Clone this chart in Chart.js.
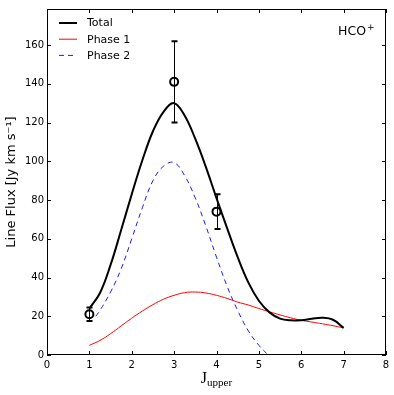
<!DOCTYPE html>
<html>
<head>
<meta charset="utf-8">
<script src="https://cdn.jsdelivr.net/npm/chart.js@4/dist/chart.umd.min.js"></script>
<style>
  html, body { margin: 0; padding: 0; background: #ffffff; }
  #wrap { width: 394px; height: 395px; }
</style>
</head>
<body>
<div id="wrap"><canvas id="c" width="394" height="395"></canvas></div>
<script>
// ---- Data ----
const curveJ = [1, 1.25, 1.5, 1.75, 2, 2.25, 2.5, 2.75, 3, 3.25, 3.5, 3.75, 4, 4.25, 4.5, 4.75, 5, 5.25, 5.5, 5.75, 6, 6.25, 6.5, 6.75, 7];
const totalFlux = [24, 32, 46.5, 64.5, 83, 100.5, 115.5, 125.5, 130, 123.5, 111.5, 97, 81, 65.5, 50.5, 37.5, 28, 22, 18.8, 17.9, 18, 18.7, 19.2, 18.2, 14];
const phase1Flux = [5, 7.5, 11, 15, 19, 22.7, 26, 28.8, 30.8, 32.2, 32.5, 32, 30.8, 29.2, 27.3, 25.8, 24, 22.3, 20.7, 19.2, 17.9, 17, 16.1, 15.1, 14];
const phase2J = [1.15, 1.25, 1.5, 1.75, 2, 2.25, 2.5, 2.75, 3, 3.25, 3.5, 3.75, 4, 4.25, 4.5, 4.75, 5, 5.22];
const phase2Flux = [20, 23, 32.5, 44.5, 60, 76, 90, 97.5, 99.3, 92.5, 81, 66.5, 50.5, 35.5, 23, 12.5, 5, 0];
const obsJ = [1, 3, 4];
const obsFlux = [21, 141, 74];
const obsErr = [3.5, 21, 9];
const xTicks = [0, 1, 2, 3, 4, 5, 6, 7, 8];
const yTicks = [0, 20, 40, 60, 80, 100, 120, 140, 160];
const seriesLabels = ['Total', 'Phase 1', 'Phase 2'];
const moleculeLabel = 'HCO';
const moleculeCharge = '+';
const xTitleMain = 'J';
const xTitleSub = 'upper';
const yTitle = 'Line Flux [Jy km s\u207B\u00B9]';

const SANS = '"DejaVu Sans", "Liberation Sans", sans-serif';
const SERIF = '"Liberation Serif", "DejaVu Serif", serif';

const pts = (xs, ys) => xs.map((x, i) => ({ x: x, y: ys[i] }));

const decor = {
  id: 'decor',
  beforeDatasetsDraw(chart) {
    const ctx = chart.ctx, xs = chart.scales.x, ys = chart.scales.y;
    ctx.save();
    ctx.strokeStyle = '#000';
    obsJ.forEach((j, i) => {
      const px = Math.round(xs.getPixelForValue(j)) + 0.5;
      const top = ys.getPixelForValue(obsFlux[i] + obsErr[i]);
      const bot = ys.getPixelForValue(obsFlux[i] - obsErr[i]);
      ctx.lineWidth = 1;
      ctx.beginPath(); ctx.moveTo(px, top); ctx.lineTo(px, bot); ctx.stroke();
      ctx.lineWidth = 2;
      ctx.beginPath();
      ctx.moveTo(px - 3, top); ctx.lineTo(px + 3, top);
      ctx.moveTo(px - 3, bot); ctx.lineTo(px + 3, bot);
      ctx.stroke();
    });
    ctx.restore();
  },
  afterDraw(chart) {
    const ctx = chart.ctx, a = chart.chartArea, xs = chart.scales.x, ys = chart.scales.y;
    ctx.save();
    // frame
    ctx.strokeStyle = '#000';
    ctx.lineWidth = 1;
    ctx.strokeRect(Math.round(a.left) + 0.5, Math.round(a.top) + 0.5, Math.round(a.right - a.left) - 1, Math.round(a.bottom - a.top) - 1);
    // inward ticks
    const tl = 4;
    ctx.beginPath();
    xTicks.forEach(v => {
      const p = Math.round(xs.getPixelForValue(v)) + 0.5;
      ctx.moveTo(p, a.bottom); ctx.lineTo(p, a.bottom - tl);
      ctx.moveTo(p, a.top); ctx.lineTo(p, a.top + tl);
    });
    yTicks.forEach(v => {
      const p = Math.round(ys.getPixelForValue(v)) + 0.5;
      ctx.moveTo(a.left, p); ctx.lineTo(a.left + tl, p);
      ctx.moveTo(a.right, p); ctx.lineTo(a.right - tl, p);
    });
    ctx.stroke();

    // legend (inside, upper left)
    const ds = chart.data.datasets;
    ctx.font = '11px ' + SANS;
    ctx.textBaseline = 'middle';
    ctx.fillStyle = '#000';
    const lx0 = a.left + 12, lx1 = a.left + 30, tx = a.left + 40;
    [0, 1, 2].forEach((k, r) => {
      const y = a.top + 14 + r * 16.2;
      const d = ds[k];
      ctx.save();
      ctx.strokeStyle = d.borderColor;
      ctx.lineWidth = d.borderWidth;
      ctx.setLineDash(d.borderDash || []);
      ctx.beginPath(); ctx.moveTo(lx0, y); ctx.lineTo(lx1, y); ctx.stroke();
      ctx.restore();
      ctx.fillText(d.label, tx, y + 0.5);
    });

    // molecule annotation
    ctx.textBaseline = 'alphabetic';
    ctx.font = '12.5px ' + SANS;
    const hx = a.right - 48;
    ctx.fillText(moleculeLabel, hx, a.top + 26);
    const hw = ctx.measureText(moleculeLabel).width;
    ctx.font = '9px ' + SANS;
    ctx.fillText(moleculeCharge, hx + hw + 1, a.top + 21);

    // x-axis title with subscript
    ctx.font = '16px ' + SERIF;
    const w1 = ctx.measureText(xTitleMain).width;
    ctx.font = '11px ' + SERIF;
    const w2 = ctx.measureText(xTitleSub).width;
    const cx = (a.left + a.right) / 2;
    const sx = cx - (w1 + w2) / 2;
    ctx.font = '16px ' + SERIF;
    ctx.fillText(xTitleMain, sx, 383);
    ctx.font = '11px ' + SERIF;
    ctx.fillText(xTitleSub, sx + w1, 386);
    ctx.restore();
  }
};

const tickFont = { family: SANS, size: 10 };

new Chart(document.getElementById('c'), {
  type: 'scatter',
  data: {
    datasets: [
      { label: seriesLabels[0], data: pts(curveJ, totalFlux), showLine: true, borderColor: '#000000', backgroundColor: '#000000', borderWidth: 2, pointRadius: 0, tension: 0.4 },
      { label: seriesLabels[1], data: pts(curveJ, phase1Flux), showLine: true, borderColor: '#ff0000', backgroundColor: '#ff0000', borderWidth: 1, pointRadius: 0, tension: 0.4 },
      { label: seriesLabels[2], data: pts(phase2J, phase2Flux), showLine: true, borderColor: '#1a1aff', backgroundColor: '#1a1aff', borderWidth: 1, borderDash: [5, 4], pointRadius: 0, tension: 0.4 },
      { label: 'Observed', data: pts(obsJ, obsFlux), showLine: false, pointRadius: 4, pointBorderWidth: 2, pointBorderColor: '#000000', pointBackgroundColor: 'rgba(0,0,0,0)' }
    ]
  },
  options: {
    responsive: false,
    animation: false,
    devicePixelRatio: 1,
    layout: { padding: { left: 0, right: 8, top: 5, bottom: 0 } },
    plugins: { legend: { display: false }, tooltip: { enabled: false } },
    scales: {
      x: {
        type: 'linear', min: 0, max: 8,
        afterBuildTicks: s => { s.ticks = xTicks.map(v => ({ value: v })); },
        afterFit: s => { s.height = 40; },
        grid: { display: false, drawTicks: false },
        border: { display: false },
        ticks: { padding: 4, font: tickFont, color: '#000', maxRotation: 0, autoSkip: false }
      },
      y: {
        type: 'linear', min: 0, max: 178.6,
        afterBuildTicks: s => { s.ticks = yTicks.map(v => ({ value: v })); },
        afterFit: s => { s.width = 47; },
        grid: { display: false, drawTicks: false },
        border: { display: false },
        ticks: { padding: 3, font: tickFont, color: '#000', autoSkip: false },
        title: { display: true, text: yTitle, font: { family: SANS, size: 13 }, color: '#000', padding: { top: 4, bottom: 0 } }
      }
    }
  },
  plugins: [decor]
});
</script>
</body>
</html>
